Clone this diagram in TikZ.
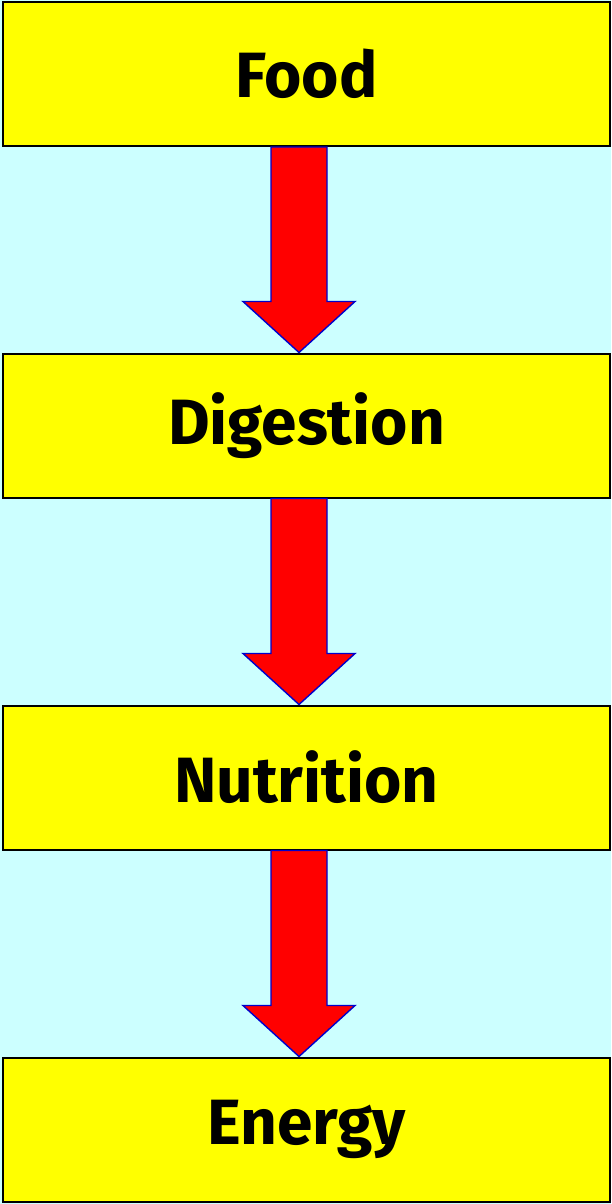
\documentclass[tikz,border=0pt]{standalone}
\usepackage{fontspec}
\setsansfont{Fira Sans}
\usetikzlibrary{calc}

\definecolor{skyback}{HTML}{CCFFFF}
\definecolor{boxyellow}{HTML}{FFFF00}
\definecolor{arrowred}{HTML}{FF0000}
\definecolor{arrowblue}{HTML}{0000CC}

% arrow from the bottom of one box to the top of the next
\newcommand{\flowarrow}[2]{%
  \draw [flowarrow] ($(#1.south)+(-35.5,0)$) -- ($(#1.south)+(20.5,0)$)
    -- ($(#2.north)+(20.5,-51)$) -- ($(#2.north)+(48.5,-51)$)
    -- ($(#2.north)+(-7.5,0)$) -- ($(#2.north)+(-63.5,-51)$)
    -- ($(#2.north)+(-35.5,-51)$) -- cycle;
}

\begin{document}
\begin{tikzpicture}[x=0.5pt, y=-0.5pt]
  \tikzset{
    stagebox/.style={
      draw, line width=1pt, fill=boxyellow, rectangle,
      minimum width=303.5pt, minimum height=72pt, inner sep=0pt,
      font=\sffamily\bfseries\fontsize{32}{36}\selectfont
    },
    flowarrow/.style={
      draw=arrowblue, line width=0.7pt, fill=arrowred, line join=miter
    }
  }

  \fill [skyback] (0,0) rectangle (611,1204);
  \useasboundingbox (0,0) rectangle (611,1204);

  \node [stagebox] (food) at (306.5, 74) {Food};
  \node [stagebox] (digestion) at (306.5, 425.5) {Digestion};
  \node [stagebox] (nutrition) at (306.5, 777.5) {Nutrition};
  \node [stagebox] (energy) at (306.5, 1129.5) {Energy};

  \flowarrow{food}{digestion}
  \flowarrow{digestion}{nutrition}
  \flowarrow{nutrition}{energy}
\end{tikzpicture}
\end{document}
